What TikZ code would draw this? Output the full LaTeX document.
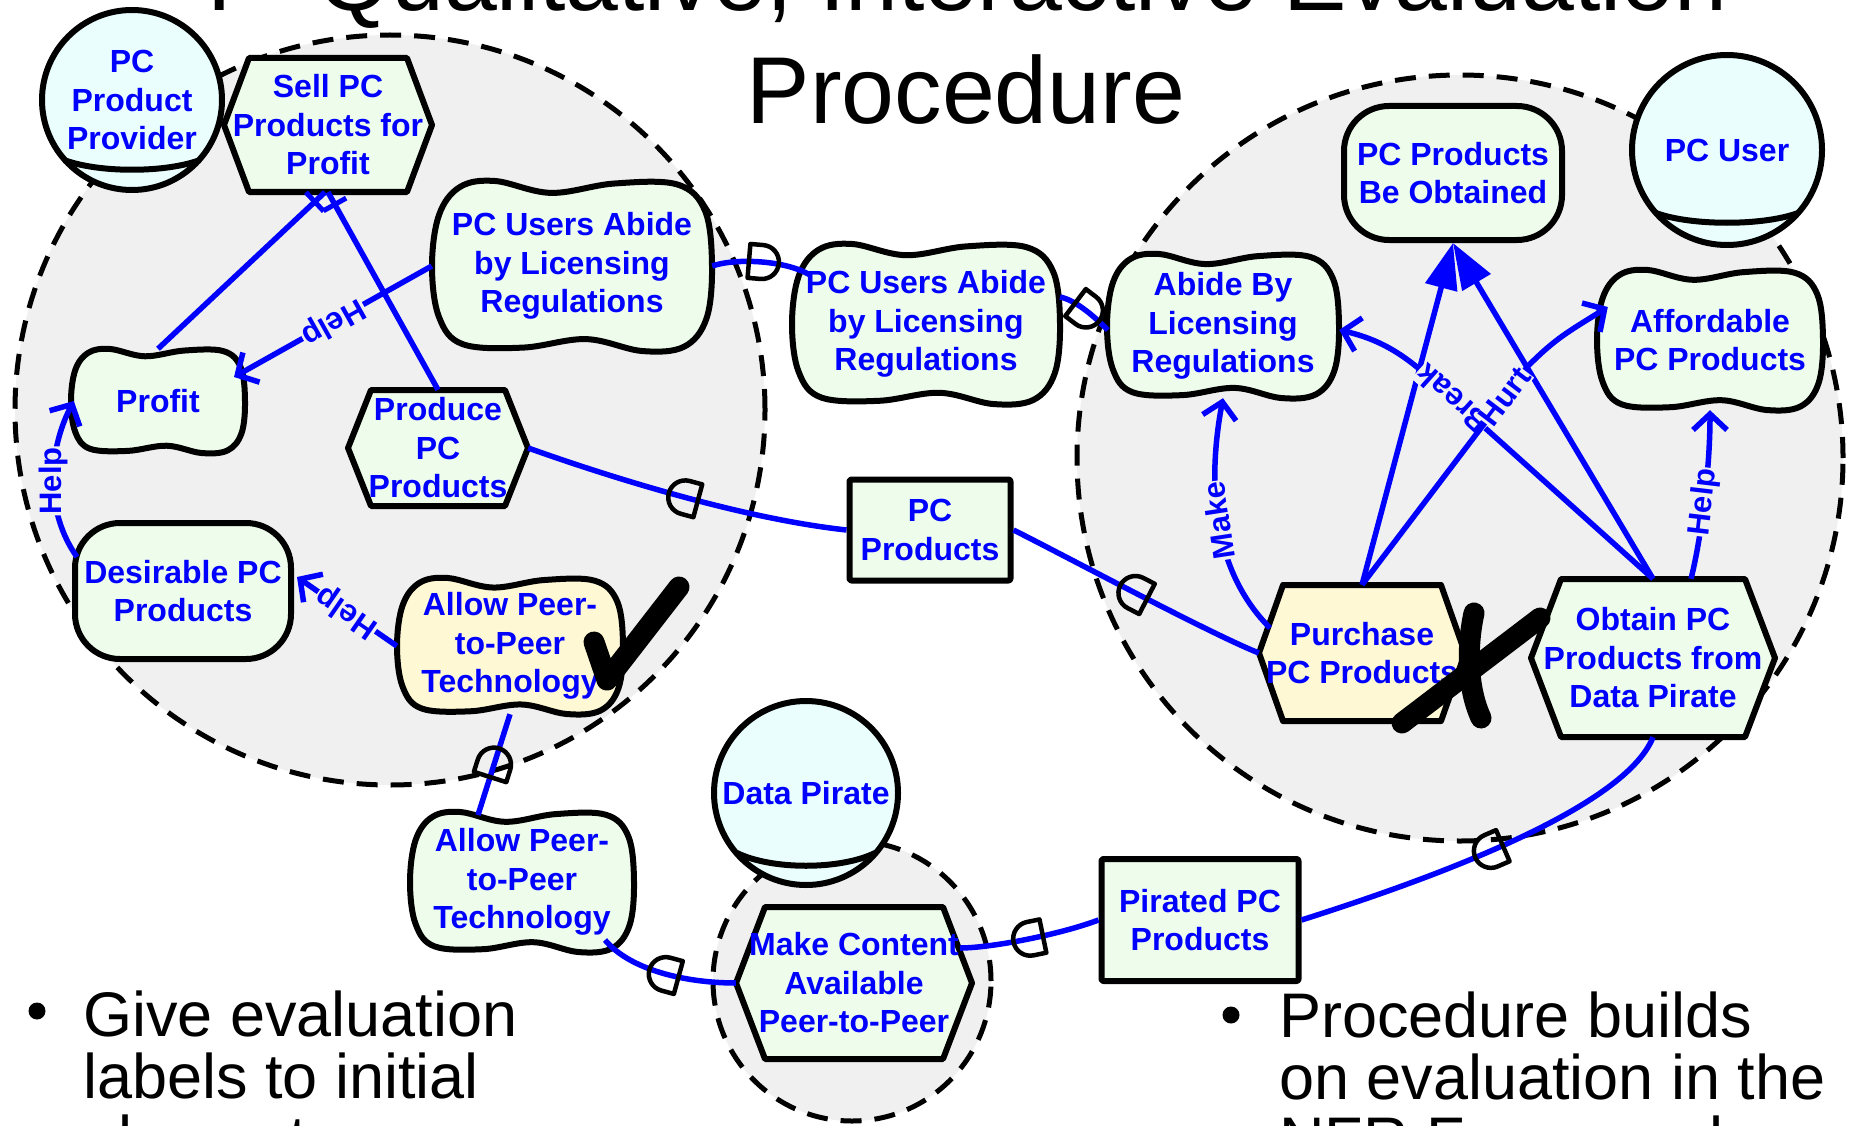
\documentclass[tikz,border=0pt]{standalone}
\usepackage{fontspec}
\setmainfont{Liberation Sans}
\usetikzlibrary{arrows.meta,decorations.markings,calc}

\definecolor{goalfill}{RGB}{238,253,235}
\definecolor{yellowfill}{RGB}{254,248,212}
\definecolor{actorfill}{RGB}{234,254,254}
\definecolor{bndfill}{RGB}{240,240,240}
\definecolor{linkblue}{RGB}{0,0,255}

% the "D" of a dependency link, pointing along the path
\newcommand{\Dmark}{\draw[-,black,solid,line width=4.5pt,line join=round] (-13pt,-17pt) -- (-13pt,17pt) -- (0pt,17pt) arc[start angle=90,end angle=-90,radius=17pt] -- cycle;}

\tikzset{
  shapeline/.style={draw=black, line width=6pt, line join=round},
  txt/.style={inner sep=0pt, align=center, text=linkblue, font=\bfseries\fontsize{32}{38.5}\selectfont},
  bnd/.style={fill=bndfill, draw=black, line width=5pt, dash pattern=on 21pt off 13pt},
  link/.style={draw=linkblue, line width=5.5pt},
  contrib/.style={link, -{Straight Barb[length=16pt,width=34pt]}},
  means/.style={link, -{Triangle[length=46pt,width=32pt]}},
  dep/.style={link, postaction={decorate}, decoration={markings, mark=at position 0.5 with {\Dmark}}},
  decomp/.style={link, postaction={decorate}, decoration={markings, mark=at position -14pt with {\draw[-,linkblue,line width=5pt] (0pt,-13pt) -- (0pt,13pt);}}},
  lab/.style={sloped, allow upside down, fill=bndfill, inner sep=1pt, text=linkblue, font=\bfseries\fontsize{31}{31}\selectfont},
  actor/.style={circle, shapeline, fill=actorfill, inner sep=0pt, align=center, text=linkblue, font=\bfseries\fontsize{32}{38.5}\selectfont},
  goal/.style={shapeline, fill=goalfill, rounded corners=45pt, txt},
  res/.style={shapeline, fill=goalfill, rounded corners=2pt, txt},
  xstroke/.style={draw=black, line width=21pt, line cap=round, line join=round},
  bigtxt/.style={inner sep=0pt, font=\fontsize{95}{110}\selectfont},
  bultxt/.style={inner sep=0pt, anchor=base west, font=\fontsize{63}{62}\selectfont},
  buldot/.style={circle, fill=black, inner sep=0pt, minimum size=17pt}
}

% softgoal: name, cx, cy, half width, half height, fill, text
\newcommand{\softgoal}[7]{%
  \draw[shapeline, fill=#6] plot[smooth cycle, tension=0.6] coordinates {
    ({#2-1.00*#4},{#3})
    ({#2-0.95*#4},{#3-0.60*#5})
    ({#2-0.80*#4},{#3-0.93*#5})
    ({#2-0.55*#4},{#3-1.00*#5})
    ({#2-0.15*#4},{#3-0.86*#5})
    ({#2+0.30*#4},{#3-0.97*#5})
    ({#2+0.75*#4},{#3-0.96*#5})
    ({#2+0.95*#4},{#3-0.65*#5})
    ({#2+1.00*#4},{#3})
    ({#2+0.96*#4},{#3+0.62*#5})
    ({#2+0.80*#4},{#3+0.95*#5})
    ({#2+0.50*#4},{#3+1.00*#5})
    ({#2+0.10*#4},{#3+0.86*#5})
    ({#2-0.35*#4},{#3+0.96*#5})
    ({#2-0.78*#4},{#3+0.92*#5})
    ({#2-0.95*#4},{#3+0.60*#5})};
  \node[txt, minimum width={2*#4}, minimum height={2*#5}] (#1) at (#2,#3) {#7};}

% task: name, cx, cy, half width, half height, point depth, fill, text
\newcommand{\taskhex}[8]{%
  \draw[shapeline, fill=#7] ({#2-#4+#6},{#3-#5}) -- ({#2+#4-#6},{#3-#5}) -- ({#2+#4},{#3})
    -- ({#2+#4-#6},{#3+#5}) -- ({#2-#4+#6},{#3+#5}) -- ({#2-#4},{#3}) -- cycle;
  \node[txt, minimum width={2*#4}, minimum height={2*#5}] (#1) at (#2,#3) {#8};}

\begin{document}
\begin{tikzpicture}[x=1pt,y=-1pt]
\useasboundingbox (0,0) rectangle (1851,1126);
\clip (0,0) rectangle (1851,1126);
\fill[white] (0,0) rectangle (1851,1126);

% actor boundaries
\draw[bnd] (390,410) circle[radius=375pt];
\draw[bnd] (1460,458) circle[radius=383pt];
\draw[bnd] (852,981) ellipse[x radius=139pt, y radius=140pt];

% title
\node[bigtxt, anchor=base] (title1) at (967,11) {I - Qualitative, Interactive Evaluation};
\node[bigtxt, anchor=base] (title2) at (966,124) {Procedure};

% elements (each macro places a named node)
\softgoal{sgA}{572}{266}{140}{85}{goalfill}{PC Users Abide\\by Licensing\\Regulations}
\softgoal{sgProfit}{158}{401}{87}{52}{goalfill}{Profit}
\softgoal{sgAllowL}{510}{646}{113}{68}{yellowfill}{Allow Peer-\\to-Peer\\Technology}
\softgoal{sgMid}{926}{324}{134}{80}{goalfill}{PC Users Abide\\by Licensing\\Regulations}
\softgoal{sgAllowB}{522}{882}{112}{70}{goalfill}{Allow Peer-\\to-Peer\\Technology}
\softgoal{sgAbide}{1223}{326}{116}{72}{goalfill}{Abide By\\Licensing\\Regulations}
\softgoal{sgAfford}{1710}{340}{113}{70}{goalfill}{Affordable\\PC Products}

\taskhex{tSell}{328}{125}{104}{67}{25}{goalfill}{Sell PC\\Products for\\Profit}
\taskhex{tProduce}{438}{448}{90}{58}{23}{goalfill}{Produce\\PC\\Products}
\taskhex{tPurchase}{1362}{653}{103}{68}{24}{yellowfill}{Purchase\\PC Products}
\taskhex{tObtain}{1653}{658}{122}{79}{30}{goalfill}{Obtain PC\\Products from\\Data Pirate}
\taskhex{tMake}{854}{983}{118}{76}{29}{goalfill}{Make Content\\Available\\Peer-to-Peer}

\node[goal, minimum width=216pt, minimum height=136pt] (gDesir) at (183,591) {Desirable PC\\Products};
\node[goal, minimum width=218pt, minimum height=134pt] (gObt) at (1453,173) {PC Products\\Be Obtained};

\node[res, minimum width=161pt, minimum height=101pt] (rPC) at (930,530) {PC\\Products};
\node[res, minimum width=197pt, minimum height=122pt] (rPirated) at (1200,920) {Pirated PC\\Products};

% actors
\node[actor, minimum size=180pt] (prov) at (132,100) {PC\\Product\\Provider};
\draw[shapeline] ([shift={(-68,60)}]prov.center) .. controls +(35,13) and +(-35,13) .. ([shift={(68,60)}]prov.center);
\node[actor, minimum size=190pt] (user) at (1727,150) {PC User};
\draw[shapeline] ([shift={(-71,63)}]user.center) .. controls +(35,13) and +(-35,13) .. ([shift={(71,63)}]user.center);
\node[actor, minimum size=184pt] (pirate) at (806,793) {Data Pirate};
\draw[shapeline] ([shift={(-69,60)}]pirate.center) .. controls +(35,17) and +(-35,17) .. ([shift={(69,60)}]pirate.center);

% dependency links
\draw[dep] (sgA.east) .. controls +(23,-8) and +(-25,-15) .. ([shift={(-116,-49)}]sgMid.center);
\draw[dep] ([shift={(134,-27)}]sgMid.center) .. controls +(15,3) and +(-15,-15) .. ([shift={(1,4)}]sgAbide.west);
\draw[dep] (rPC.west) .. controls +(-110,-12) and +(70,25) .. (tProduce.east);
\draw[dep] (tPurchase.west) .. controls +(-50,-20) and +(50,25) .. (rPC.east);
\draw[dep] ([shift={(-44,-67)}]sgAllowB.center) -- (sgAllowL.south);
\draw[dep] (tMake.west) .. controls +(-50,0) and +(25,30) .. ([shift={(83,58)}]sgAllowB.center);
\draw[dep] (rPirated.west) .. controls +(-40,15) and +(30,0) .. ([shift={(106,-35)}]tMake.center);
\draw[dep] (tObtain.south) .. controls +(-30,75) and +(110,-35) .. (rPirated.east);

% decompositions
\draw[decomp] (sgProfit.north) -- ([shift={(-3,0)}]tSell.south);
\draw[decomp] (tProduce.north) -- (tSell.south);

% means-ends
\draw[means] (tPurchase.north) -- (gObt.south);
\draw[means] (tObtain.north) -- (gObt.south);

% contributions
\draw[contrib] (sgA.west) -- node[lab]{Help} ([shift={(76,-24)}]sgProfit.center);
\draw[contrib] ([shift={(-106,-34)}]gDesir.center) .. controls +(-32,-45) and +(-26,50) .. ([shift={(3,0)}]sgProfit.west) node[lab,pos=0.5]{Help};
\draw[contrib] (sgAllowL.west) -- node[lab]{Help} ([shift={(3,-14)}]gDesir.east);
\draw[contrib] ([shift={(-92,-25)}]tPurchase.center) .. controls +(-60,-60) and +(-15,80) .. (sgAbide.south) node[lab,pos=0.5]{Make};
\draw[contrib] ([shift={(38,0)}]tObtain.north) .. controls +(10,-40) and +(0,60) .. (sgAfford.south) node[lab,pos=0.5]{Help};
\coordinate (bk) at (1425,374);
\draw[contrib] (tObtain.north) -- (bk) node[lab,pos=0.88]{Break} .. controls +(-30,-27) and +(30,7) .. ([shift={(0,4)}]sgAbide.east);
\coordinate (ht) at (1528,366);
\draw[contrib] (tPurchase.north) -- (ht) node[lab,pos=0.86]{Hurt} .. controls +(28,-28) and +(-40,25) .. ([shift={(11,-33)}]sgAfford.west);

% evaluation marks
\draw[xstroke] (594,642) -- (607,680) -- (679,587);
\draw[xstroke] (1402,723) -- (1540,618);
\draw[xstroke] (1474,613) .. controls (1466,650) and (1468,690) .. (1481,718);

% bullets
\node[buldot] (bulL) at (37,1011) {};
\node[bultxt] (l1) at (83,1036) {Give evaluation};
\node[bultxt] (l2) at (83,1098) {labels to initial};
\node[bultxt] (l3) at (83,1160) {elements};
\node[buldot] (bulR) at (1231,1015) {};
\node[bultxt] (r1) at (1279,1037) {Procedure builds};
\node[bultxt] (r2) at (1279,1099) {on evaluation in the};
\node[bultxt] (r3) at (1279,1161) {NFR Framework};
\end{tikzpicture}
\end{document}
